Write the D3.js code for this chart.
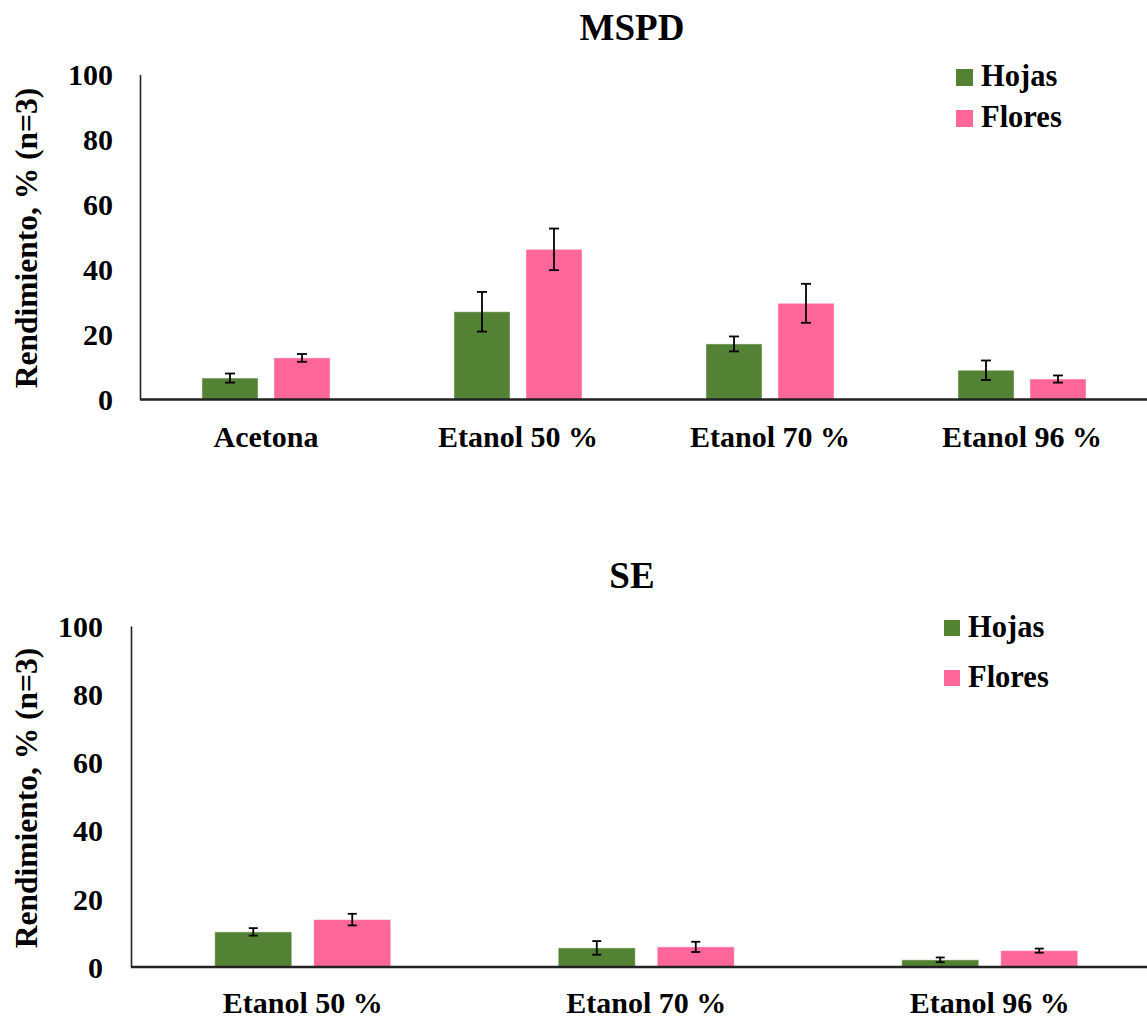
<!DOCTYPE html>
<html>
<head>
<meta charset="utf-8">
<script src="https://cdn.jsdelivr.net/npm/d3@7"></script>
<style>
  html, body { margin: 0; padding: 0; background: #fff; }
  svg { display: block; }
  text { font-family: "Liberation Serif", "Times New Roman", serif; font-weight: bold; fill: #000; }
</style>
</head>
<body>
<svg id="chart" width="1147" height="1019"></svg>
<script>
// ---- Data ----
const series = ["Hojas", "Flores"];
const yTicks = [0, 20, 40, 60, 80, 100];

const mspdCategories = ["Acetona", "Etanol 50 %", "Etanol 70 %", "Etanol 96 %"];
const mspdHojas = [6.6, 27.0, 17.1, 9.0];
const mspdHojasErr = [1.4, 6.1, 2.3, 3.0];
const mspdFlores = [12.8, 46.2, 29.6, 6.3];
const mspdFloresErr = [1.2, 6.4, 6.0, 1.1];

const seCategories = ["Etanol 50 %", "Etanol 70 %", "Etanol 96 %"];
const seHojas = [10.3, 5.6, 2.1];
const seHojasErr = [1.1, 2.0, 0.7];
const seFlores = [13.9, 5.9, 4.8];
const seFloresErr = [1.7, 1.5, 0.6];

const colors = { Hojas: "#548235", Flores: "#FF6699" };

const svg = d3.select("#chart");

function drawPanel(cfg) {
  const g = svg.append("g");
  const x = d3.scaleBand().domain(cfg.categories)
    .range([cfg.x0, cfg.x1]).paddingInner(cfg.pInner).paddingOuter(cfg.pInner / 2);
  const xs = d3.scaleBand().domain(series).range([0, x.bandwidth()]).paddingInner(0.222);
  const y = d3.scaleLinear().domain([0, 100]).range([cfg.yBottom, cfg.yTop]);

  const rows = [];
  cfg.categories.forEach((c, i) => {
    rows.push({ cat: c, s: "Hojas", v: cfg.hojas[i], e: cfg.hojasErr[i] });
    rows.push({ cat: c, s: "Flores", v: cfg.flores[i], e: cfg.floresErr[i] });
  });

  // bars
  g.selectAll("rect.bar").data(rows).join("rect")
    .attr("class", "bar")
    .attr("x", d => x(d.cat) + xs(d.s))
    .attr("y", d => y(d.v))
    .attr("width", xs.bandwidth())
    .attr("height", d => y(0) - y(d.v))
    .attr("fill", d => colors[d.s])
    .attr("stroke", "rgba(255,255,255,0.45)")
    .attr("stroke-width", 1);

  // error bars
  const cw = cfg.capW;
  const eg = g.selectAll("g.err").data(rows).join("g").attr("class", "err")
    .attr("transform", d => `translate(${x(d.cat) + xs(d.s) + xs.bandwidth() / 2},0)`);
  eg.append("line").attr("x1", 0).attr("x2", 0)
    .attr("y1", d => y(d.v + d.e)).attr("y2", d => y(d.v - d.e))
    .attr("stroke", "#000").attr("stroke-width", 1.8);
  eg.append("line").attr("x1", -cw / 2).attr("x2", cw / 2)
    .attr("y1", d => y(d.v + d.e)).attr("y2", d => y(d.v + d.e))
    .attr("stroke", "#000").attr("stroke-width", 1.8);
  eg.append("line").attr("x1", -cw / 2).attr("x2", cw / 2)
    .attr("y1", d => y(d.v - d.e)).attr("y2", d => y(d.v - d.e))
    .attr("stroke", "#000").attr("stroke-width", 1.8);

  // y axis
  const ya = g.append("g").attr("transform", `translate(${cfg.x0},0)`)
    .call(d3.axisLeft(y).tickValues(yTicks).tickSize(0).tickPadding(cfg.yPad).tickSizeOuter(0));
  ya.select(".domain").attr("stroke", "#222").attr("stroke-width", 1.6);
  ya.selectAll("text").attr("font-size", 30).attr("font-family", null).attr("dy", "0.34em");

  // x axis
  const xa = g.append("g").attr("transform", `translate(0,${cfg.yBottom})`)
    .call(d3.axisBottom(x).tickSize(0).tickSizeOuter(0));
  xa.select(".domain").attr("stroke", "#222").attr("stroke-width", 2.5)
    .attr("d", `M${cfg.x0},0H1147`);
  xa.selectAll("text").attr("font-size", 30).attr("font-family", null)
    .attr("y", cfg.xLabY).attr("dy", 0);

  // y label
  g.append("text")
    .attr("transform", `translate(${cfg.yLabX},${cfg.yLabY}) rotate(-90)`)
    .attr("text-anchor", "middle").attr("font-size", 31.5)
    .text("Rendimiento, % (n=3)");

  // title
  g.append("text").attr("x", 632).attr("y", cfg.titleY)
    .attr("text-anchor", "middle").attr("font-size", 37).text(cfg.title);

  // legend
  series.forEach((s, i) => {
    const ly = cfg.legY + i * cfg.legStep;
    g.append("rect").attr("x", cfg.legX).attr("y", ly - 17)
      .attr("width", cfg.legSq).attr("height", cfg.legSq).attr("fill", colors[s]);
    g.append("text").attr("x", cfg.legX + cfg.legSq + 8).attr("y", ly)
      .attr("font-size", 30.5).text(s);
  });
}

drawPanel({
  title: "MSPD", titleY: 40,
  categories: mspdCategories, hojas: mspdHojas, hojasErr: mspdHojasErr,
  flores: mspdFlores, floresErr: mspdFloresErr,
  x0: 140, x1: 1148, pInner: 0.492,
  yTop: 74.5, yBottom: 399.5, yPad: 27, xLabY: 47,
  yLabX: 37, yLabY: 238, capW: 10,
  legX: 956, legY: 86, legStep: 41, legSq: 17
});

drawPanel({
  title: "SE", titleY: 588,
  categories: seCategories, hojas: seHojas, hojasErr: seHojasErr,
  flores: seFlores, floresErr: seFloresErr,
  x0: 131, x1: 1161.5, pInner: 0.4876,
  yTop: 626, yBottom: 967, yPad: 28, xLabY: 46,
  yLabX: 37, yLabY: 798, capW: 9,
  legX: 944, legY: 637, legStep: 50, legSq: 16
});
</script>
</body>
</html>
